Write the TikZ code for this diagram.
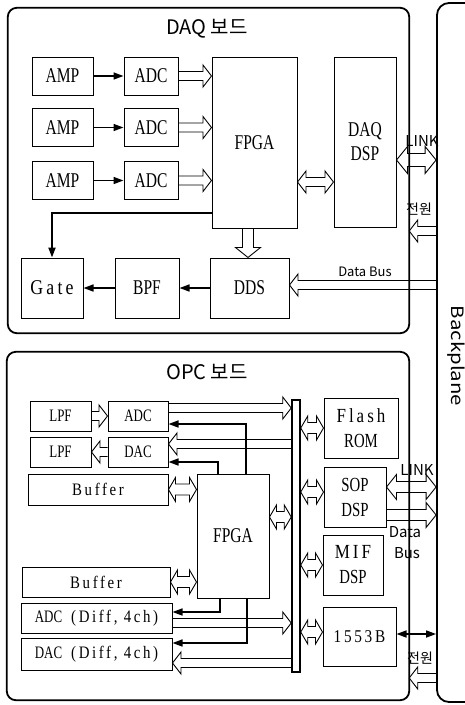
\documentclass[tikz,border=0pt]{standalone}
\usepackage{fontspec}
\usetikzlibrary{arrows.meta,calc}

\newfontfamily\krsans{Noto Sans CJK KR}
\newfontfamily\bpfont[FakeStretch=1.2]{Noto Sans CJK KR}
\newfontfamily\boxfont[FakeStretch=0.74]{Liberation Serif}
\newfontfamily\widefont[FakeStretch=0.85,LetterSpace=15]{Liberation Serif}

\begin{document}
\begin{tikzpicture}[
  x=1pt,
  y=-1pt,
  blk/.style={
    rectangle,
    draw,
    line width=1pt,
    inner sep=0pt,
    align=center,
    font=\boxfont\fontsize{21}{24}\selectfont
  },
  small/.style={
    blk,
    font=\boxfont\fontsize{17.5}{20}\selectfont
  },
  twoline/.style={
    blk,
    font=\boxfont\fontsize{20}{25}\selectfont
  },
  frame/.style={
    minimum width=#1,
    inner sep=0pt
  },
  boardline/.style={
    line width=1.8pt,
    rounded corners=9pt
  },
  ttl/.style={
    font=\krsans\fontsize{20}{24}\selectfont
  },
  lbl/.style={
    font=\krsans\fontsize{14}{16}\selectfont,
    inner sep=0pt
  },
  arr/.style={
    line width=1.6pt,
    -{Triangle[length=10pt,width=7pt]}
  },
  arrboth/.style={
    line width=1.6pt,
    {Triangle[length=10pt,width=7pt]}-{Triangle[length=10pt,width=7pt]}
  },
  fatsize/.code args={#1/#2/#3}{\def\fatS{#1}\def\fatW{#2}\def\fatL{#3}},
  big/.style={
    fatsize=5.5pt/12.5pt/10pt
  },
  stub/.style={
    fatsize=5.5pt/12pt/7pt
  },
  fat/.style={
    line width=0.9pt,
    fatsize=4.5pt/11pt/8.5pt,
    to path={
      let \p1=(\tikztostart), \p2=(\tikztotarget),
          \n1={atan2(\y2-\y1,\x2-\x1)}
      in
      ($(\p1)+(\n1+90:\fatS)$)
      -- ($(\p2)+(\n1+180:\fatL)+(\n1+90:\fatS)$)
      -- ($(\p2)+(\n1+180:\fatL)+(\n1+90:\fatW)$)
      -- (\p2)
      -- ($(\p2)+(\n1+180:\fatL)+(\n1-90:\fatW)$)
      -- ($(\p2)+(\n1+180:\fatL)+(\n1-90:\fatS)$)
      -- ($(\p1)+(\n1-90:\fatS)$)
    }
  },
  fatboth/.style={
    line width=0.9pt,
    fatsize=4.5pt/11pt/8.5pt,
    to path={
      let \p1=(\tikztostart), \p2=(\tikztotarget),
          \n1={atan2(\y2-\y1,\x2-\x1)}
      in
      (\p1)
      -- ($(\p1)+(\n1:\fatL)+(\n1+90:\fatW)$)
      -- ($(\p1)+(\n1:\fatL)+(\n1+90:\fatS)$)
      -- ($(\p2)+(\n1+180:\fatL)+(\n1+90:\fatS)$)
      -- ($(\p2)+(\n1+180:\fatL)+(\n1+90:\fatW)$)
      -- (\p2)
      -- ($(\p2)+(\n1+180:\fatL)+(\n1-90:\fatW)$)
      -- ($(\p2)+(\n1+180:\fatL)+(\n1-90:\fatS)$)
      -- ($(\p1)+(\n1:\fatL)+(\n1-90:\fatS)$)
      -- ($(\p1)+(\n1:\fatL)+(\n1-90:\fatW)$)
      -- cycle
    }
  }
]

\useasboundingbox (0,0) rectangle (465,705);

% =========================================================
% BOARDS AND BACKPLANE
% =========================================================

\node[frame=401pt, minimum height=325pt] (daq) at (208.5,170.5) {};
\node[frame=402pt, minimum height=348pt] (opc) at (208,526) {};

\node[
  draw,
  line width=1.8pt,
  rounded corners=12pt,
  minimum width=53pt,
  minimum height=699pt
] (bp) at (463.5,352.5) {};

\node[
  rotate=-90,
  anchor=base,
  inner sep=0pt,
  font=\bpfont\fontsize{17}{20}\selectfont
] (bptxt) at (451,356) {Backplane};

\node[ttl] (daqttl) at (207,29) {DAQ 보드};
\node[ttl] (opcttl) at (207,372) {OPC 보드};

% =========================================================
% DAQ BOARD
% =========================================================

\node[blk, minimum width=61pt, minimum height=38pt] (amp1) at (62.5,76) {AMP};
\node[blk, minimum width=61pt, minimum height=38pt] (amp2) at (62.5,127.5) {AMP};
\node[blk, minimum width=61pt, minimum height=38pt] (amp3) at (62.5,180.5) {AMP};

\node[blk, minimum width=54pt, minimum height=38pt] (adc1) at (151,76) {ADC};
\node[blk, minimum width=54pt, minimum height=38pt] (adc2) at (151,127.5) {ADC};
\node[blk, minimum width=54pt, minimum height=38pt] (adc3) at (151,180.5) {ADC};

\node[blk, minimum width=85pt, minimum height=171pt] (fpga) at (254.5,142.5) {FPGA};
\node[blk, minimum width=62pt, minimum height=170pt] (dsp) at (365,142) {DAQ\\DSP};

\node[blk, minimum width=62pt, minimum height=60pt] (gate) at (52,288) {\widefont Gate};
\node[blk, minimum width=64pt, minimum height=60pt] (bpf) at (147,288) {BPF};
\node[blk, minimum width=79pt, minimum height=60pt] (dds) at (249.5,288) {DDS};

\draw[arr] (amp1) -- (adc1);
\draw[arr] (amp2) -- (adc2);
\draw[arr] (amp3) -- (adc3);

\draw[fat] (adc1.east) to (adc1.east -| fpga.west);
\draw[fat] (adc2.east) to (adc2.east -| fpga.west);
\draw[fat] (adc3.east) to (adc3.east -| fpga.west);

\draw[fatboth] ([yshift=-39.5pt]fpga.east) to ([yshift=-39.5pt]fpga.east -| dsp.west);
\draw[fatboth, fatsize=6.5pt/13.5pt/11pt] ([yshift=-18pt]dsp.east) to ([yshift=-18pt]dsp.east -| bp.west);
\draw[fat] (bp.west |- 0,231) to (daq.east |- 0,231);
\draw[fat] (bp.west |- 0,285) to ([yshift=3pt]dds.east);
\draw[fat, big] ([xshift=-6.5pt]fpga.south) to ([xshift=-6.5pt]fpga.south |- dds.north);

\draw[arr, line width=1.9pt] ([yshift=-70.5pt]fpga.west) -| (gate.north);
\draw[arr] (dds) -- (bpf);
\draw[arr] (bpf) -- (gate);

\node[lbl, font=\krsans\fontsize{15}{17}\selectfont] (link1) at (422,141) {LINK};
\node[lbl] (pwr1) at (419,209) {전원};
\node[lbl, font=\krsans\fontsize{13}{15}\selectfont] (dbus1) at (365,272) {Data Bus};

% =========================================================
% OPC BOARD
% =========================================================

\node[small, minimum width=61pt, minimum height=30pt] (lpf1) at (60.5,416) {LPF};
\node[small, minimum width=60pt, minimum height=30pt] (adco) at (138,416) {ADC};
\node[small, minimum width=61pt, minimum height=30pt] (lpf2) at (60.5,452) {LPF};
\node[small, minimum width=60pt, minimum height=30pt] (daco) at (138,452) {DAC};

\node[small, minimum width=140pt, minimum height=31pt] (buf1) at (98,489.5) {\widefont Buffer};
\node[small, minimum width=148pt, minimum height=30pt] (buf2) at (96,582) {\widefont Buffer};
\node[small, minimum width=151pt, minimum height=30pt] (adcd) at (96.5,618) {ADC\hspace{9pt}{\widefont (Diff, 4ch)}};
\node[small, minimum width=151pt, minimum height=32pt] (dacd) at (96.5,654) {DAC\hspace{9pt}{\widefont (Diff, 4ch)}};

\node[blk, minimum width=72pt, minimum height=124pt] (fpgao) at (233,536) {FPGA};

\node[draw, line width=1.5pt, minimum width=8pt, minimum height=272pt, inner sep=0pt] (bus) at (296,536) {};

\node[twoline, minimum width=74pt, minimum height=60pt] (flash) at (361,428) {{\widefont Flash}\\ROM};
\node[twoline, minimum width=62pt, minimum height=60pt] (sop) at (355,497) {SOP\\DSP};
\node[twoline, minimum width=60pt, minimum height=60pt] (mif) at (353,565) {{\widefont MIF}\\DSP};
\node[twoline, minimum width=73pt, minimum height=59pt, font=\widefont\fontsize{18}{22}\selectfont] (mil) at (359.5,636.5) {1553B};

% --- analog side ---

\draw[fat] (lpf1.east) to (adco.west);
\draw[fat] (daco.west) to (lpf2.east);

\draw[fat] ([yshift=8pt]adco.east) to ([yshift=8pt]adco.east -| bus.west);
\draw[arr] ([xshift=13pt]fpgao.north) |- ([yshift=-8pt]adco.east);
\draw[fat] (bus.west |- 0,444) to ([yshift=8pt]daco.east);
\draw[arr] ([xshift=-15pt]fpgao.north) |- ([yshift=-10pt]daco.east);

\draw[fatboth, stub] (buf1.east) to (buf1.east -| fpgao.west);
\draw[fatboth, stub] (buf2.east) to (buf2.east -| fpgao.west);
\draw[fatboth, stub] ([yshift=19pt]fpgao.east) to ([yshift=19pt]fpgao.east -| bus.west);

\draw[arr] ([xshift=-13pt]fpgao.south) |- ([yshift=6pt]adcd.east);
\draw[fat] ([yshift=-5pt]adcd.east) to ([yshift=-5pt]adcd.east -| bus.west);
\draw[arr] ([xshift=14pt]fpgao.south) |- ([yshift=11pt]dacd.east);
\draw[fat] (bus.west |- 0,663) to ([yshift=-9pt]dacd.east);

% --- bus side ---

\draw[fatboth, stub] (bus.east |- flash.west) to (flash.west);
\draw[fatboth, stub] (bus.east |- 0,492) to ([yshift=5pt]sop.west);
\draw[fatboth, stub] (bus.east |- mif.west) to (mif.west);
\draw[fatboth, stub] (bus.east |- 0,632) to ([yshift=4.5pt]mil.west);

\draw[fatboth, big] ([yshift=10pt]sop.east) to ([yshift=10pt]sop.east -| bp.west);
\draw[fat, big] ([yshift=-18pt]sop.east) to ([yshift=-18pt]sop.east -| bp.west);
\draw[arrboth] ([yshift=2.5pt]mil.east) -- ([yshift=2.5pt]mil.east -| bp.west);
\draw[fat] (bp.west |- 0,678) to (opc.east |- 0,678);

\node[lbl, font=\krsans\fontsize{15}{17}\selectfont] (link2) at (417,470) {LINK};
\node[lbl, font=\krsans\fontsize{15}{17}\selectfont] (data2) at (405,532) {Data};
\node[lbl, font=\krsans\fontsize{15}{17}\selectfont] (bus2) at (407,553) {Bus};
\node[lbl] (pwr2) at (420,658) {전원};

% =========================================================
% BOARD OUTLINES
% =========================================================

\draw[boardline] (daq.north west) rectangle (daq.south east);
\draw[boardline] (opc.north west) rectangle (opc.south east);

\end{tikzpicture}
\end{document}
